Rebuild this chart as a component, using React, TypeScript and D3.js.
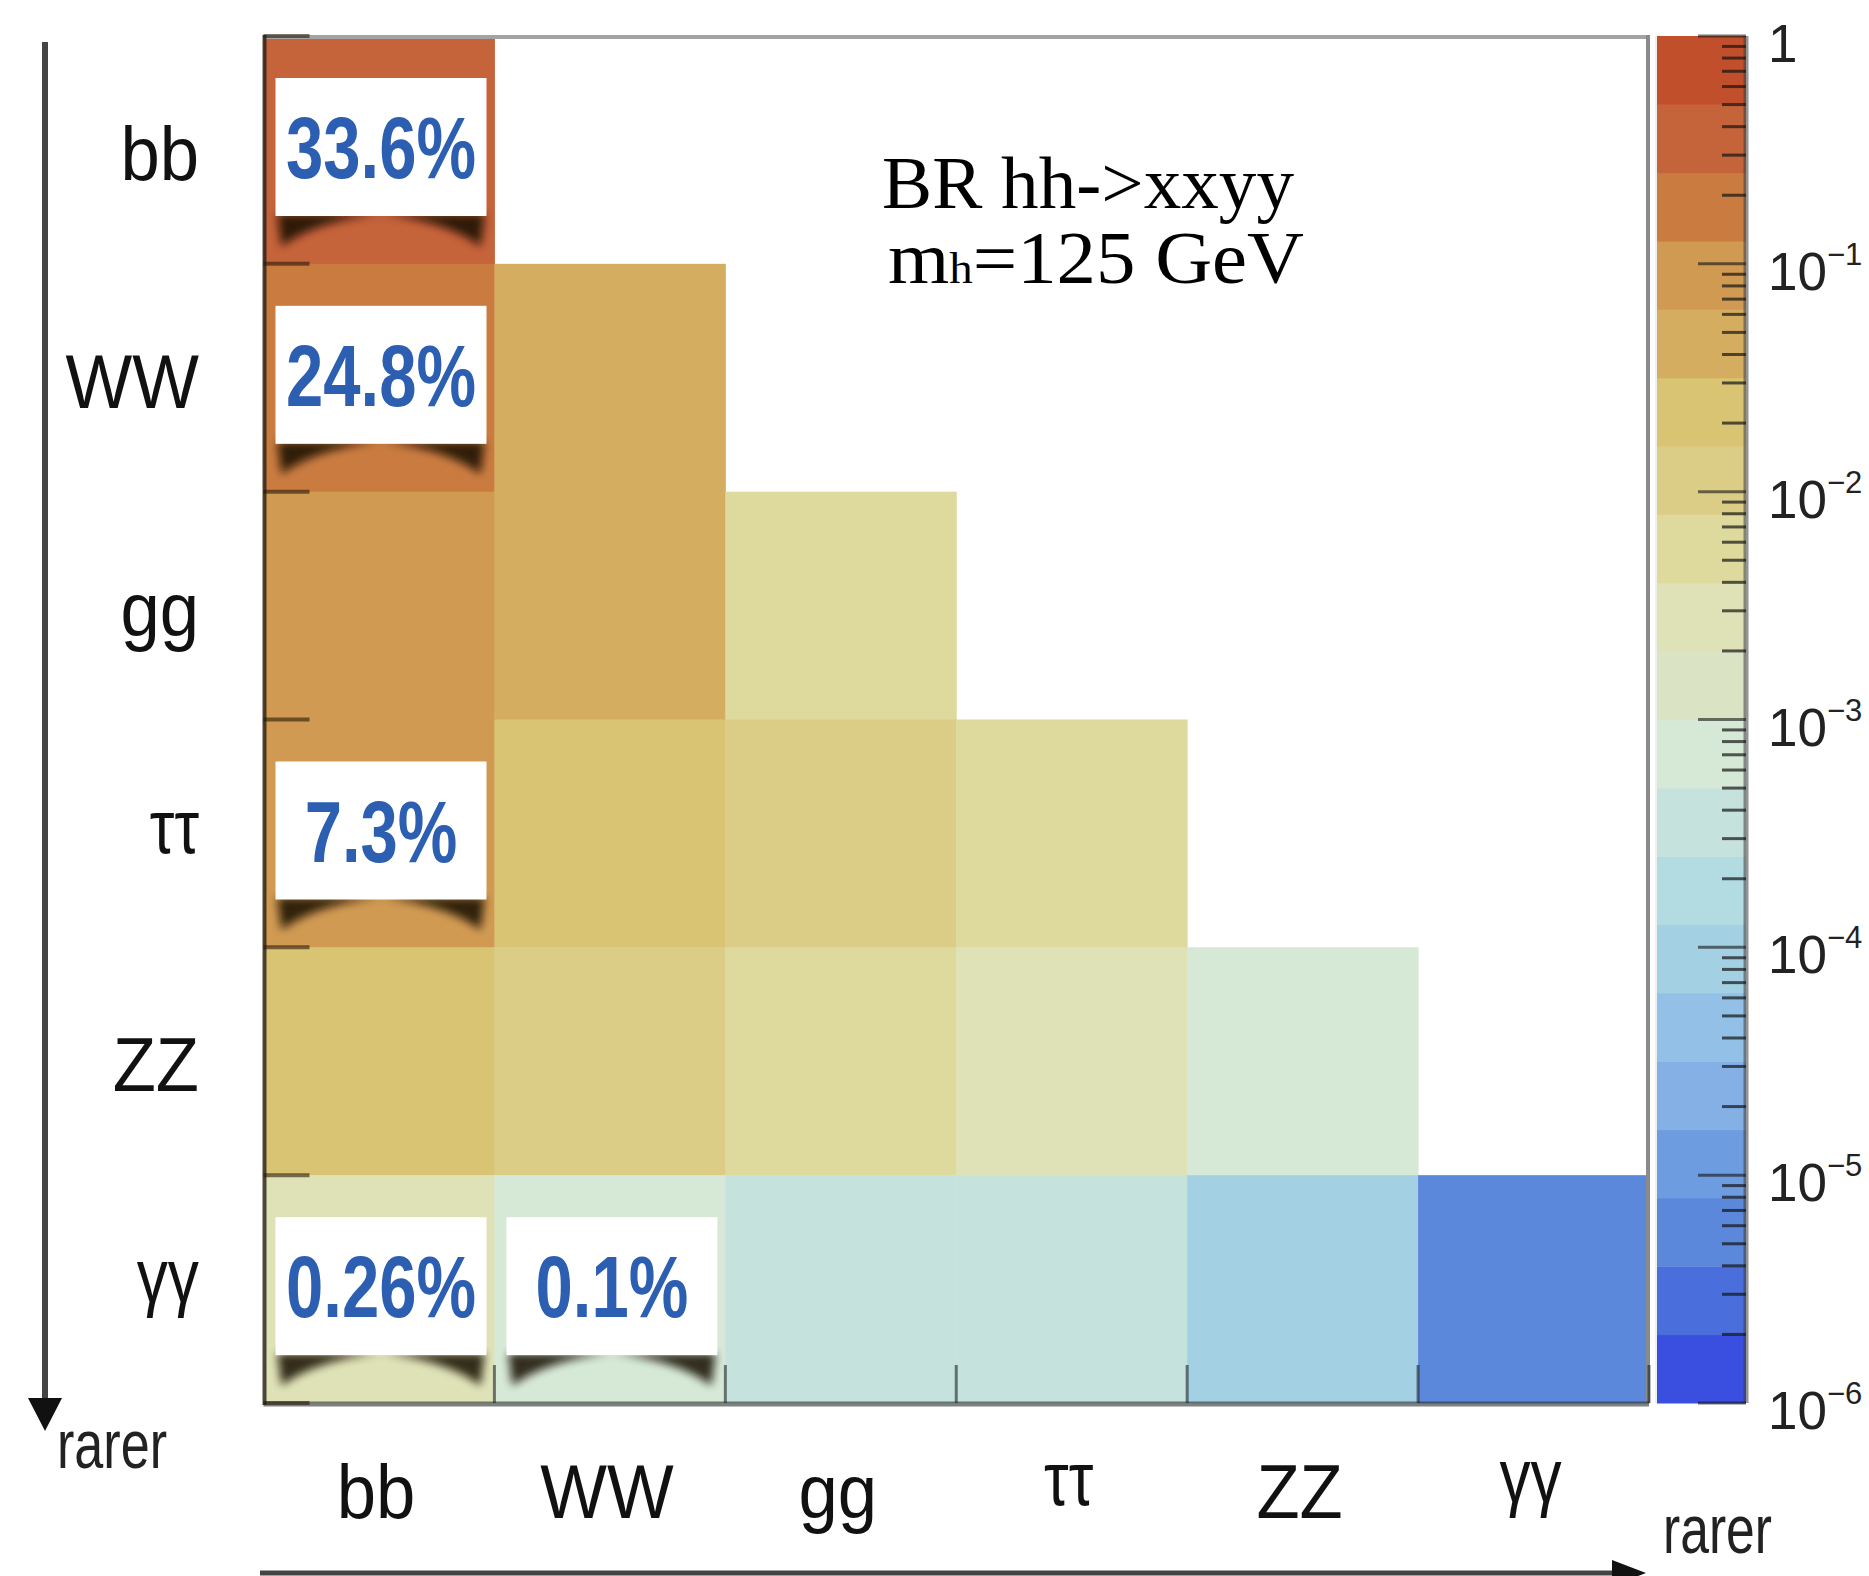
import React from "react";
import * as d3 from "d3";

const W = 1869;
const H = 1576;

const CHANNELS = ["bb", "WW", "gg", "ττ", "ZZ", "γγ"];

// BR(hh -> xx yy), lower triangle: row = first decay, col = second decay
const BR_BB = [0.336];
const BR_WW = [0.248, 0.0458];
const BR_GG = [0.0994, 0.0367, 0.00734];
const BR_TT = [0.0727, 0.0268, 0.01075, 0.004];
const BR_ZZ = [0.0304, 0.0112, 0.00449, 0.00329, 0.000686];
const BR_AA = [0.00263, 0.00097, 0.000389, 0.000285, 0.000119, 0.0000052];
const BR_ROWS = [BR_BB, BR_WW, BR_GG, BR_TT, BR_ZZ, BR_AA];

// highlighted cells
const CALLOUT_ROWS = [0, 1, 3, 5, 5];
const CALLOUT_COLS = [0, 0, 0, 0, 1];
const CALLOUT_TEXT = ["33.6%", "24.8%", "7.3%", "0.26%", "0.1%"];

// palette bands, from 1 (top) down to 1e-6 (bottom), 0.3 decade each
const BAND_COLORS = [
  "#C24F2B", "#C5633A", "#CA7C40", "#D09A52", "#D4AD60",
  "#D9C473", "#DCCD86", "#DEDA9E", "#DFE2B6", "#DAE4C4",
  "#D6E8D6", "#C6E2DC", "#B2DCE2", "#A4D0E4", "#92C0E6",
  "#84B0E6", "#6E9CE0", "#5C88DC", "#4A6EDC", "#3A4FE0",
];
const CBAR_EXPONENTS = [0, -1, -2, -3, -4, -5, -6];

const SANS = "'Liberation Sans', Arial, Helvetica, sans-serif";
const SERIF = "'Liberation Serif', 'Times New Roman', serif";

export default function App() {
  const plot = { left: 263.5, right: 1649, top: 36, bottom: 1403 };
  const cb = { x0: 1657, x1: 1746 };

  const x = d3.scaleBand<string>().domain(CHANNELS).range([plot.left, plot.right]);
  const y = d3.scaleBand<string>().domain(CHANNELS).range([plot.top, plot.bottom]);
  const cbY = d3.scaleLog().domain([1e-6, 1]).range([plot.bottom, plot.top]);

  const nBands = BAND_COLORS.length;
  const color = d3
    .scaleThreshold<number, string>()
    .domain(d3.range(1, nBands).map((i) => -6 + 0.3 * i))
    .range(BAND_COLORS.slice().reverse());

  const cells = BR_ROWS.flatMap((row, ri) =>
    row.map((v, ci) => ({ r: CHANNELS[ri], c: CHANNELS[ci], v }))
  );

  const bands = d3.range(nBands).map((i) => {
    const lo = -6 + 0.3 * i;
    return { y0: cbY(Math.pow(10, lo + 0.3)), y1: cbY(Math.pow(10, lo)), fill: color(lo + 0.15) };
  });

  const minor = d3.range(6).flatMap((n) =>
    d3.range(2, 10).map((k) => k * Math.pow(10, -(n + 1)))
  );

  const bw = x.bandwidth();
  const rowEdges = CHANNELS.map((c) => y(c) as number).concat([plot.bottom]);
  const colEdges = CHANNELS.map((c) => (x(c) as number) + bw);

  const boxW = 211;
  const boxH = 138;

  const labelY = (c: string) => {
    const mid = (y(c) as number) + y.bandwidth() / 2;
    if (c === "ττ") return mid + 20;
    if (c === "γγ") return mid + 13;
    return mid + 30;
  };
  const sx = (c: string) => (c === "ττ" || c === "γγ" ? 0.82 : 0.93);

  return (
    <div style={{ position: "absolute", left: 0, top: 0, width: W, height: H, background: "#fff" }}>
      <svg width={W} height={H} viewBox={`0 0 ${W} ${H}`} style={{ display: "block" }}>
        <defs>
          <filter id="shadowBlur" x="-30%" y="-80%" width="160%" height="260%">
            <feGaussianBlur stdDeviation="4.5" />
          </filter>
        </defs>
        <rect x={0} y={0} width={W} height={H} fill="#fff" />

        {/* cells */}
        {cells.map((d, i) => (
          <rect
            key={i}
            x={x(d.c)}
            y={y(d.r)}
            width={bw + 0.5}
            height={y.bandwidth() + 0.5}
            fill={color(Math.log10(d.v))}
          />
        ))}

        {/* callout boxes with curled-corner shadows */}
        {CALLOUT_TEXT.map((t, i) => {
          const bx = (x(CHANNELS[CALLOUT_COLS[i]]) as number) + 12;
          const by = (y(CHANNELS[CALLOUT_ROWS[i]]) as number) + 42;
          const yb = by + boxH;
          const leftWedge = `M${bx + 2},${yb - 2} L${bx + boxW * 0.5},${yb - 2} Q${bx + boxW * 0.2},${yb + 4} ${bx + 6},${yb + 30} Z`;
          const rightWedge = `M${bx + boxW - 2},${yb - 2} L${bx + boxW * 0.5},${yb - 2} Q${bx + boxW * 0.8},${yb + 4} ${bx + boxW - 6},${yb + 30} Z`;
          return (
            <g key={t}>
              <g filter="url(#shadowBlur)" fill="#120800" opacity={0.85}>
                <path d={leftWedge} />
                <path d={rightWedge} />
              </g>
              <rect x={bx} y={by} width={boxW} height={boxH} fill="#fff" />
              <g transform={`translate(${bx + boxW / 2},${by + boxH / 2 + 31}) scale(0.77,1)`}>
                <text
                  textAnchor="middle"
                  fontFamily={SANS}
                  fontWeight="bold"
                  fontSize={87}
                  fill="#2C5EB2"
                >
                  {t}
                </text>
              </g>
            </g>
          );
        })}

        {/* frame */}
        <line x1={plot.left} x2={plot.right} y1={37} y2={37} stroke="#a3a3a3" strokeWidth={4} />
        <line x1={plot.right - 1} x2={plot.right - 1} y1={35} y2={plot.bottom} stroke="#8a8a8a" strokeWidth={4} />
        <line x1={plot.left + 1} x2={plot.left + 1} y1={35} y2={plot.bottom + 2} stroke="rgba(40,30,20,0.8)" strokeWidth={4} />
        <line x1={plot.left} x2={plot.right} y1={plot.bottom + 1} y2={plot.bottom + 1} stroke="rgba(40,45,45,0.6)" strokeWidth={5} />

        {/* axis ticks */}
        {rowEdges.map((ty, i) => (
          <line key={`yt${i}`} x1={plot.left} x2={plot.left + 46} y1={ty} y2={ty} stroke="rgba(40,25,10,0.6)" strokeWidth={4} />
        ))}
        {colEdges.map((tx, i) => (
          <line key={`xt${i}`} x1={tx} x2={tx} y1={plot.bottom} y2={plot.bottom - 38} stroke="rgba(30,35,40,0.6)" strokeWidth={3} />
        ))}

        {/* y labels */}
        {CHANNELS.map((c) => (
          <g key={`yl${c}`} transform={`translate(199,${labelY(c)}) scale(${sx(c)},1)`}>
            <text textAnchor="end" fontFamily={SANS} fontSize={76} fill="#111">
              {c}
            </text>
          </g>
        ))}

        {/* x labels */}
        {CHANNELS.map((c) => {
          const cx = (x(c) as number) + bw / 2 - 3;
          const base = c === "ττ" ? 1505 : c === "γγ" ? 1502 : 1518;
          return (
            <g key={`xl${c}`} transform={`translate(${cx},${base}) scale(${sx(c)},1)`}>
              <text textAnchor="middle" fontFamily={SANS} fontSize={76} fill="#111">
                {c}
              </text>
            </g>
          );
        })}

        {/* colour bar */}
        {bands.map((b, i) => (
          <rect key={`cb${i}`} x={cb.x0} y={b.y0} width={cb.x1 - cb.x0} height={b.y1 - b.y0 + 0.5} fill={b.fill} />
        ))}
        <line x1={cb.x0 - 1} x2={cb.x0 - 1} y1={plot.top} y2={plot.bottom} stroke="#eef0ee" strokeWidth={2} />
        <line x1={cb.x1} x2={cb.x1} y1={plot.top} y2={plot.bottom} stroke="rgba(60,60,60,0.55)" strokeWidth={5} />
        {minor.map((v, i) => (
          <line key={`mn${i}`} x1={cb.x1 - 24} x2={cb.x1} y1={cbY(v)} y2={cbY(v)} stroke="rgba(20,20,20,0.7)" strokeWidth={3} />
        ))}
        {CBAR_EXPONENTS.map((e) => (
          <line key={`mj${e}`} x1={cb.x1 - 48} x2={cb.x1} y1={cbY(Math.pow(10, e))} y2={cbY(Math.pow(10, e))} stroke="rgba(20,20,20,0.6)" strokeWidth={3} />
        ))}
        {CBAR_EXPONENTS.map((e) => {
          const ty = cbY(Math.pow(10, e)) + 26;
          return (
            <text key={`lb${e}`} x={1768} y={ty} fontFamily={SANS} fontSize={53} fill="#222">
              {e === 0 ? "1" : "10"}
              {e !== 0 && (
                <tspan dy={-25} fontSize={31}>
                  {`\u2212${-e}`}
                </tspan>
              )}
            </text>
          );
        })}

        {/* title */}
        <text x={1088} y={208} textAnchor="middle" fontFamily={SERIF} fontSize={74} fill="#000" textLength={412} lengthAdjust="spacingAndGlyphs">
          BR hh-&gt;xxyy
        </text>
        <text x={1096} y={283} textAnchor="middle" fontFamily={SERIF} fontSize={74} fill="#000" textLength={416} lengthAdjust="spacingAndGlyphs">
          m<tspan fontSize={44}>h</tspan>=125 GeV
        </text>

        {/* "rarer" arrows */}
        <line x1={45} x2={45} y1={42} y2={1400} stroke="#444" strokeWidth={6} />
        <polygon points="28,1398 62,1398 45,1431" fill="#111" />
        <text x={57} y={1468} fontFamily={SANS} fontSize={68} fill="#222" textLength={110} lengthAdjust="spacingAndGlyphs">
          rarer
        </text>
        <line x1={260} x2={1620} y1={1573} y2={1573} stroke="#444" strokeWidth={5} />
        <polygon points="1612,1560 1612,1586 1646,1573" fill="#111" />
        <text x={1663} y={1553} fontFamily={SANS} fontSize={68} fill="#222" textLength={109} lengthAdjust="spacingAndGlyphs">
          rarer
        </text>
      </svg>
    </div>
  );
}
